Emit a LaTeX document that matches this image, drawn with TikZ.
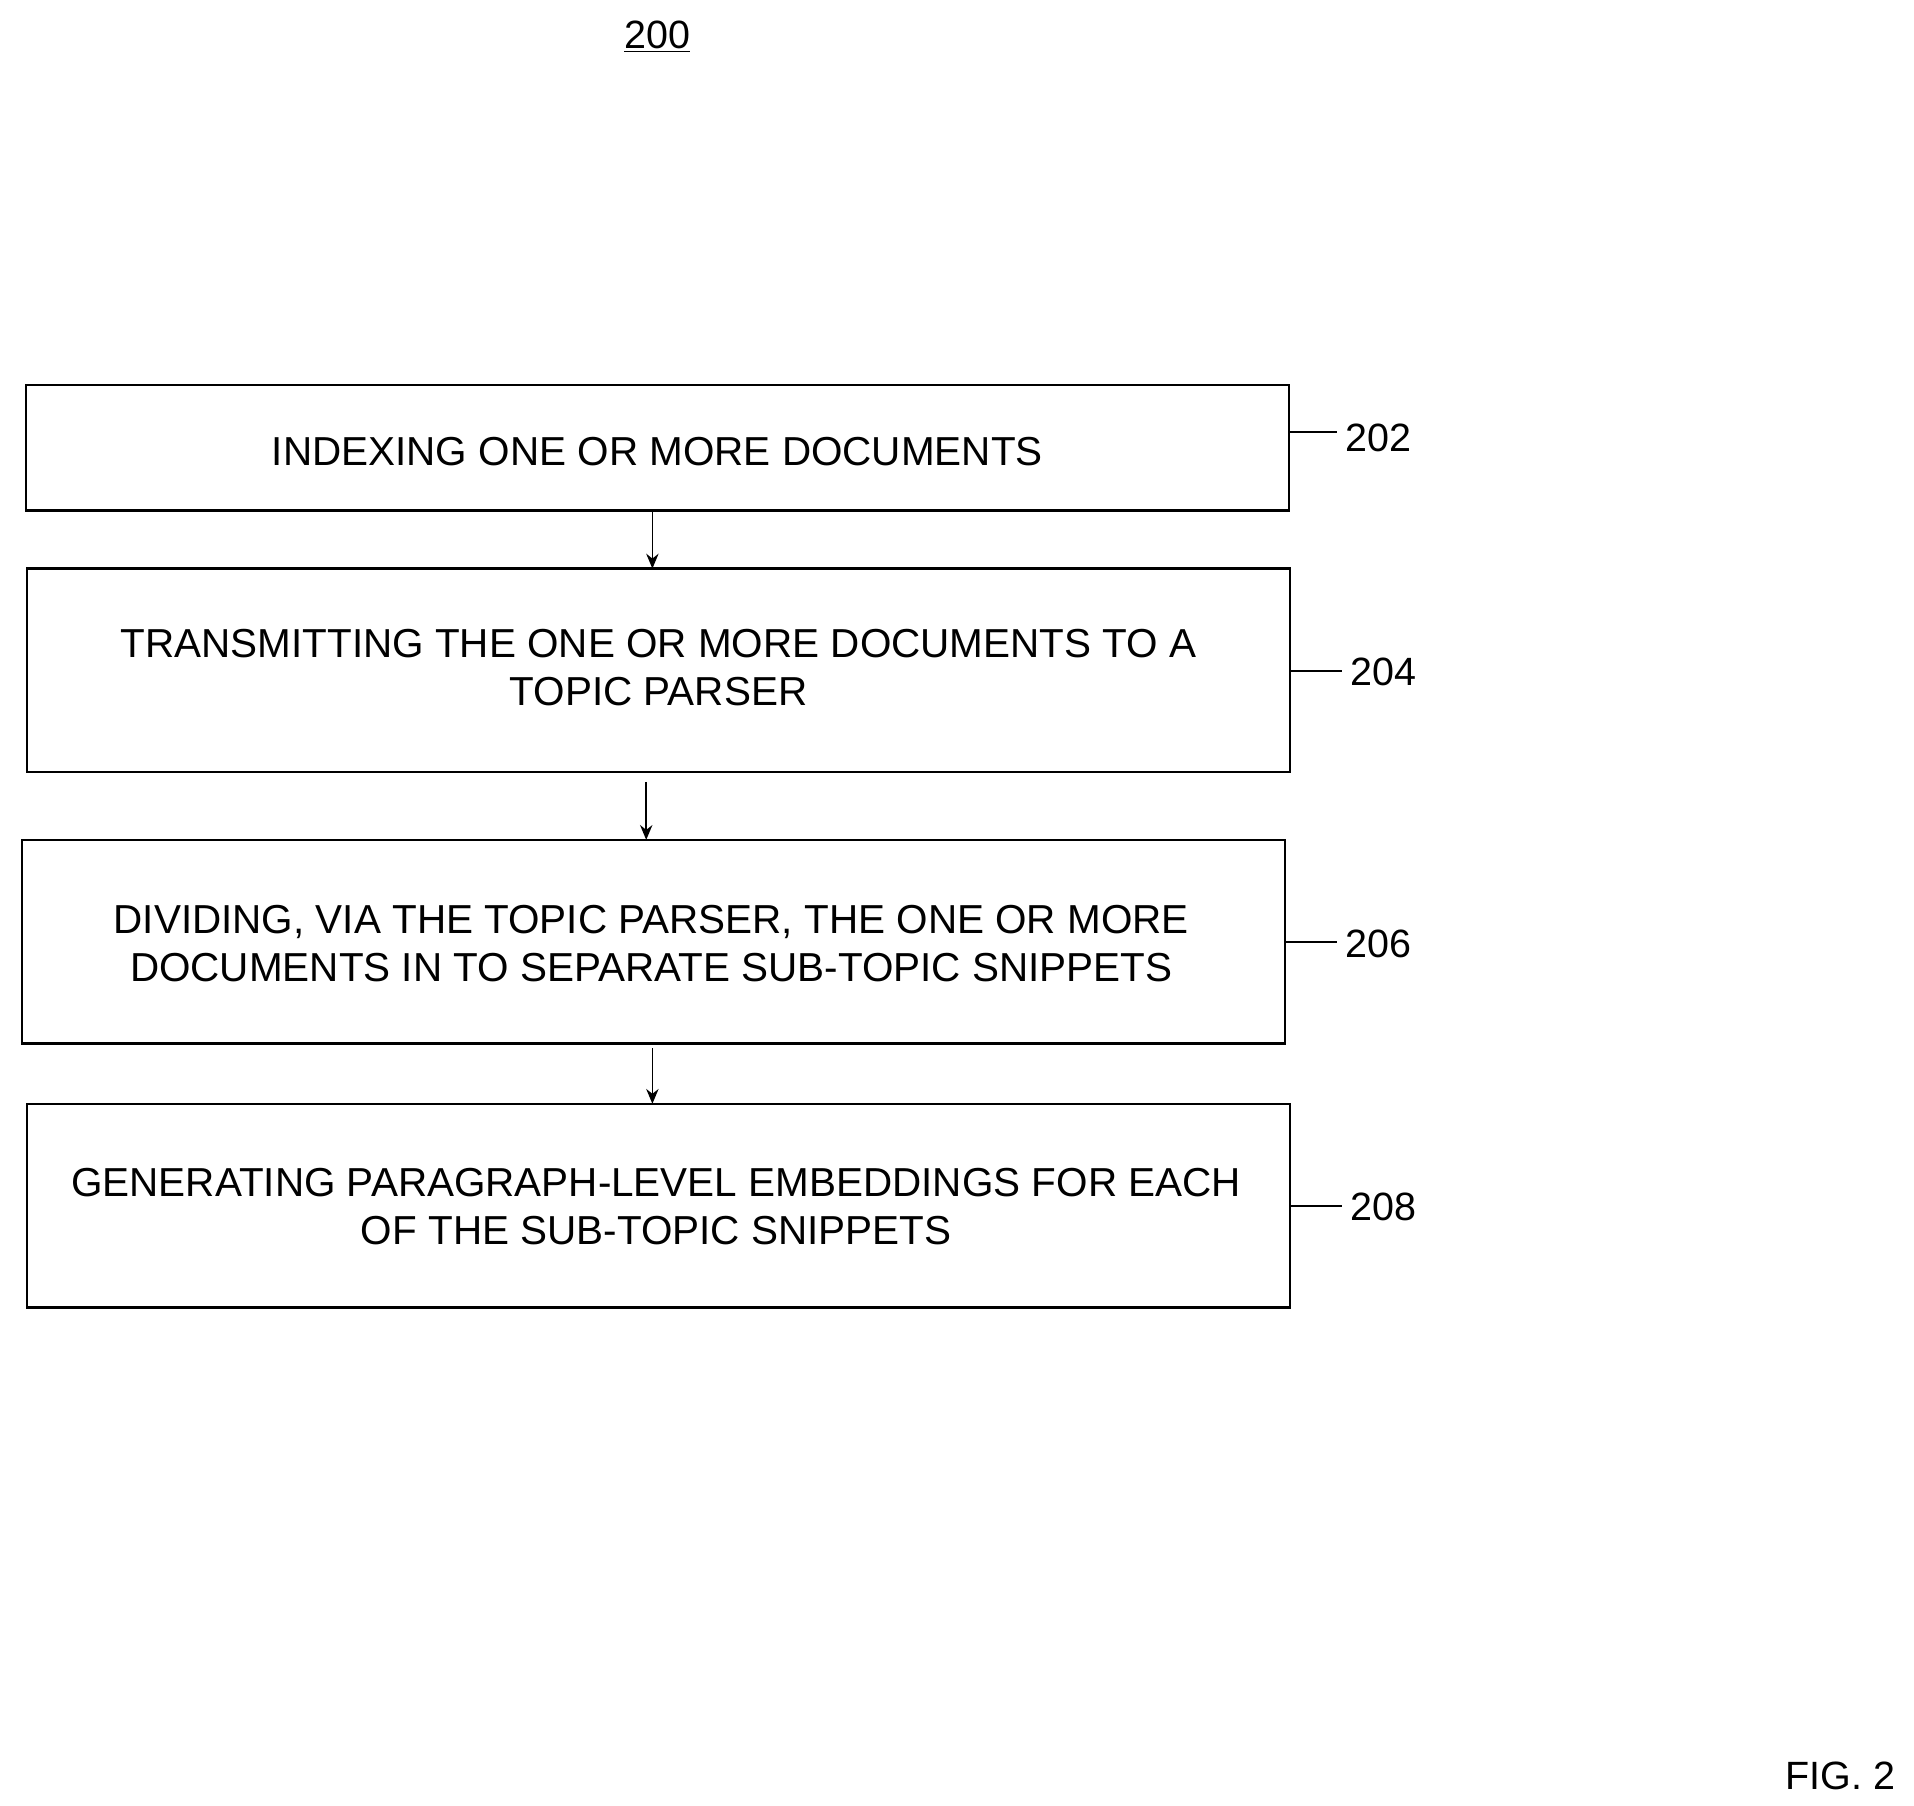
\documentclass[tikz,border=0pt]{standalone}
\usepackage{fontspec}
\setmainfont{Liberation Sans}
\usetikzlibrary{arrows.meta}
\begin{document}
\begin{tikzpicture}[x=0.5pt,y=-0.5pt,
  stepbox/.style={draw,line width=1pt,inner sep=0pt},
  lbl/.style={font=\fontsize{16}{19}\selectfont},
  txt/.style={font=\fontsize{16.4}{19.5}\selectfont,align=center},
  arr/.style={-{Stealth[length=6pt,width=5pt]},line width=0.7pt},
  lead/.style={line width=0.7pt}]
\useasboundingbox (0,0) rectangle (1552,1464);
\node[lbl] (t200) at (533,30) {\underline{200}};
\node[lbl,anchor=east] (fig) at (1544,1440) {FIG. 2};
\draw[stepbox] (21,312) rectangle (1045,414);
\node[txt] (b1) at (533,366) {INDEXING ONE OR MORE DOCUMENTS};
\draw[stepbox] (22,461) rectangle (1046,626);
\node[txt] (b2) at (534,541) {TRANSMITTING THE ONE OR MORE DOCUMENTS TO A\\TOPIC PARSER};
\draw[stepbox] (18,681) rectangle (1042,846);
\node[txt] (b3) at (528,765) {DIVIDING, VIA THE TOPIC PARSER, THE ONE OR MORE\\DOCUMENTS IN TO SEPARATE SUB-TOPIC SNIPPETS};
\draw[stepbox] (22,895) rectangle (1046,1060);
\node[txt] (b4) at (532,978) {GENERATING PARAGRAPH-LEVEL EMBEDDINGS FOR EACH\\OF THE SUB-TOPIC SNIPPETS};
\coordinate (a1s) at (529,414); \coordinate (a1e) at (529,461);
\coordinate (a2s) at (524,634); \coordinate (a2e) at (524,681);
\coordinate (a3s) at (529,850); \coordinate (a3e) at (529,895);
\draw[arr] (a1s) -- (a1e);
\draw[arr] (a2s) -- (a2e);
\draw[arr] (a3s) -- (a3e);
\node[lbl,anchor=west] (n202) at (1084,355) {202};
\node[lbl,anchor=west] (n204) at (1088,545) {204};
\node[lbl,anchor=west] (n206) at (1084,765) {206};
\node[lbl,anchor=west] (n208) at (1088,979) {208};
\coordinate (l1) at (1046,350); \coordinate (l2) at (1047,544);
\coordinate (l3) at (1043,764); \coordinate (l4) at (1047,978);
\draw[lead] (l1) -- (n202.west|-l1);
\draw[lead] (l2) -- (n204.west|-l2);
\draw[lead] (l3) -- (n206.west|-l3);
\draw[lead] (l4) -- (n208.west|-l4);
\end{tikzpicture}
\end{document}
